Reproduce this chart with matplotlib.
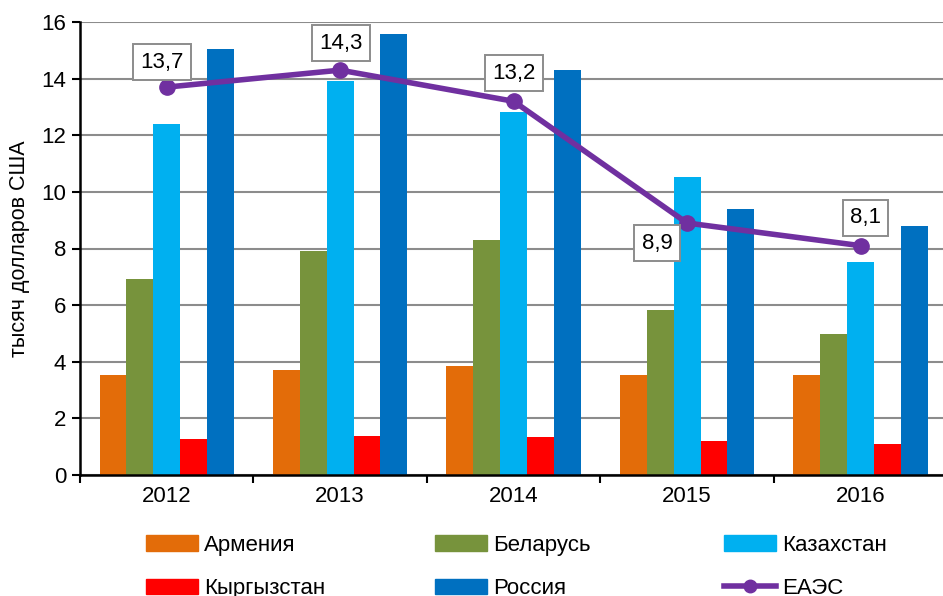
import numpy as np
import matplotlib
matplotlib.use("Agg")
import matplotlib.pyplot as plt
from matplotlib.lines import Line2D
from matplotlib.patches import Patch

plt.rcParams['font.family'] = ['Liberation Sans', 'DejaVu Sans']

years = ['2012', '2013', '2014', '2015', '2016']
armenia = [3.53, 3.71, 3.86, 3.53, 3.53]
belarus = [6.92, 7.92, 8.30, 5.84, 4.99]
kazakhstan = [12.40, 13.92, 12.82, 10.53, 7.51]
kyrgyzstan = [1.26, 1.37, 1.35, 1.19, 1.10]
russia = [15.06, 15.58, 14.30, 9.38, 8.78]
eaeu = [13.7, 14.3, 13.2, 8.9, 8.1]
eaeu_labels = ['13,7', '14,3', '13,2', '8,9', '8,1']

series_names = ['Армения', 'Беларусь', 'Казахстан', 'Кыргызстан', 'Россия']
series_vals = [armenia, belarus, kazakhstan, kyrgyzstan, russia]
colors = ['#E36C09', '#77933C', '#00B0F0', '#FF0000', '#0070C0']
purple = '#7030A0'

fig = plt.figure(figsize=(9.43, 5.96), dpi=100)
ax = fig.add_axes([80 / 943, 1 - 475 / 596, 1 - 80 / 943 + 0.01, (475 - 22) / 596])

x = np.arange(len(years))
w = 0.155
for i, (vals, c) in enumerate(zip(series_vals, colors)):
    ax.bar(x + (i - 2) * w, vals, width=w, color=c, zorder=2)

ax.plot(x, eaeu, color=purple, lw=4, marker='o', markersize=11, zorder=4)

# label offsets in pixels (dx, dy)
offs = [(-5, 25), (1, 27), (0, 28), (-30, -20), (5, 28)]
for xi, yi, lab, (dx, dy) in zip(x, eaeu, eaeu_labels, offs):
    ax.annotate(lab, (xi, yi), xytext=(dx, dy), textcoords='offset pixels',
                ha='center', va='center', fontsize=16, zorder=5,
                bbox=dict(boxstyle='square,pad=0.33', fc='white', ec='#8C8C8C', lw=1.4))

ax.set_ylim(0, 16)
ax.set_yticks(np.arange(0, 17, 2))
ax.set_xlim(-0.5, 4.5 + 0.03)
ax.set_xticks(x)
ax.set_xticklabels(years)
ax.set_xticks(np.arange(-0.5, 5, 1), minor=True)
ax.tick_params(axis='x', which='major', length=0, pad=8, labelsize=16)
ax.tick_params(axis='x', which='minor', length=6, width=1.5, direction='out')
ax.tick_params(axis='y', length=6, width=1.5, direction='out', labelsize=16, pad=4)
ax.yaxis.grid(True, color='#8C8C8C', lw=1.5, zorder=0)
ax.set_axisbelow(True)
for s in ['top', 'right']:
    ax.spines[s].set_visible(False)
for s in ['left', 'bottom']:
    ax.spines[s].set_linewidth(1.8)
ax.set_ylabel('тысяч долларов США', fontsize=15.5, labelpad=8)

handles = [Patch(color=c, label=n) for c, n in zip(colors, series_names)]
handles.append(Line2D([], [], color=purple, lw=4, marker='o', markersize=9, label='ЕАЭС'))
cols = [[handles[0], handles[3]], [handles[1], handles[4]], [handles[2], handles[5]]]
col_x = [146, 435, 724]
for hs, cx in zip(cols, col_x):
    fig.legend(handles=hs, loc='upper left', bbox_to_anchor=(cx / 943, 1 - 535 / 596),
               frameon=False, borderpad=0, borderaxespad=0, fontsize=16,
               handlelength=2.35, handleheight=0.7, handletextpad=0.25, labelspacing=1.0)

fig.savefig('out.png', dpi=100)
